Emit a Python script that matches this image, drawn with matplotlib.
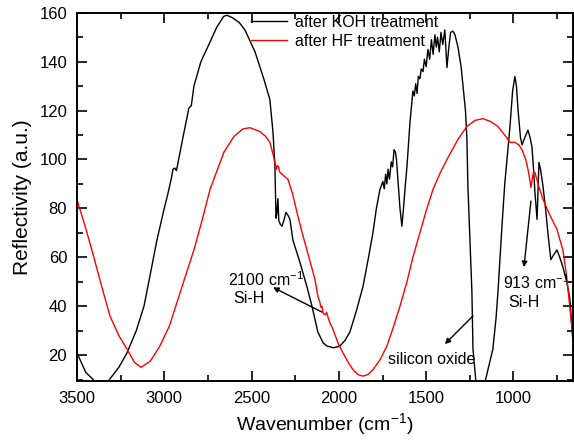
import matplotlib
matplotlib.use("Agg")
import matplotlib.pyplot as plt
from matplotlib.ticker import MultipleLocator

plt.rcParams['font.family'] = ['Liberation Sans', 'DejaVu Sans']
plt.rcParams['mathtext.fontset'] = 'custom'
plt.rcParams['mathtext.rm'] = 'Liberation Sans'
plt.rcParams['mathtext.default'] = 'rm'

# Reflectivity spectrum after KOH etching
koh_wn = [3500, 3450, 3400, 3360, 3320, 3260, 3214, 3160, 3116, 3080, 3042, 3000,
          2979, 2960, 2950, 2940, 2930, 2915, 2890, 2870, 2859, 2845, 2830, 2790,
          2738, 2700, 2660, 2641, 2610, 2570, 2538, 2480, 2430, 2395, 2377, 2366,
          2360, 2355, 2349, 2344, 2335, 2326, 2315, 2303, 2290, 2280, 2263, 2223,
          2183, 2154, 2120, 2090, 2068, 2030, 1994, 1965, 1937, 1900, 1862, 1830,
          1805, 1785, 1765, 1748, 1740, 1732, 1725, 1718, 1710, 1700, 1692, 1684,
          1676, 1670, 1660, 1650, 1639, 1630, 1620, 1610, 1600, 1593, 1585, 1576,
          1568, 1560, 1552, 1545, 1536, 1528, 1518, 1510, 1500, 1490, 1480, 1470,
          1460, 1450, 1442, 1435, 1425, 1415, 1405, 1393, 1381, 1370, 1360, 1347,
          1335, 1318, 1300, 1289, 1275, 1267, 1261, 1250, 1238, 1232, 1215, 1190,
          1163, 1140, 1118, 1100, 1089, 1066, 1050, 1037, 1020, 1005, 992, 983,
          974, 960, 951, 935, 917, 905, 894, 885, 877, 865, 858, 854, 845, 831,
          815, 803, 786, 770, 751, 735, 717, 695, 677, 660]
koh_refl = [21, 13, 9.5, 7, 9.4, 15, 20.8, 30, 40, 53, 67, 80,
            86, 92, 96, 96.5, 95.5, 101, 110, 117, 121, 122, 130, 140,
            148, 154, 158.5, 159, 158, 156, 153, 144, 133, 124.5, 111, 97,
            76, 78, 84, 75, 73.5, 72.7, 75, 78.4, 77, 75.5, 67, 58,
            48, 40, 29.4, 25, 23.7, 23, 23.7, 26, 29.4, 38, 48, 60,
            70, 80, 87.7, 91, 88, 94, 90, 96, 92, 99, 97, 104,
            103, 100, 90, 80, 72.7, 80, 89, 97, 108, 115, 121, 128,
            126, 131, 127, 134, 133, 137, 136, 141, 138, 145, 141, 149,
            143, 151, 146, 150, 144, 152, 147, 153, 137.6, 146, 152, 152.5,
            151, 146, 138, 130, 120, 109, 89, 68, 45.7, 22.5, 9, 4,
            9, 16, 22.5, 35, 45.7, 72.7, 90, 100, 113.5, 128, 134, 130,
            120.4, 109, 106, 109, 112, 109, 105, 96, 86.5, 75.5, 90, 98.8, 96, 89,
            79, 70, 59, 61, 63, 60, 56, 50, 43, 26]

# Reflectivity spectrum after HF dip
hf_wn = [3500, 3450, 3403, 3350, 3311, 3260, 3214, 3170, 3133, 3080, 3025, 2970,
         2927, 2880, 2830, 2780, 2738, 2700, 2658, 2600, 2550, 2509, 2452, 2420,
         2395, 2380, 2366, 2358, 2352, 2345, 2340, 2326, 2310, 2292, 2265, 2240,
         2210, 2183, 2160, 2137, 2120, 2110, 2103, 2097, 2090, 2078, 2070, 2060,
         2050, 2034, 2005, 1977, 1950, 1919, 1890, 1862, 1835, 1805, 1765, 1725,
         1690, 1650, 1610, 1576, 1536, 1500, 1461, 1420, 1381, 1320, 1267, 1220,
         1175, 1130, 1089, 1050, 1020, 992, 970, 951, 930, 917, 905, 900, 893,
         885, 877, 855, 831, 790, 751, 717, 695, 675, 660]
hf_refl = [83.7, 72, 60, 46, 36, 28, 22.5, 17, 15, 17.5, 23.7, 32,
           41.6, 52, 63, 76, 87.7, 95, 103, 109.5, 112.5, 113, 111.4, 109.5,
           107, 103, 98.8, 96, 97.5, 97, 95, 94, 93, 92, 86, 78.4,
           70, 63, 57, 51, 44, 42, 39.6, 40, 37, 36.5, 37.5, 35,
           33, 30.6, 25, 21, 17.5, 14, 12, 11.4, 12, 14, 18, 23.7,
           31, 40, 50, 60, 70, 79, 87.7, 94.5, 100, 108, 113.5, 116,
           116.7, 115.5, 113.5, 110, 107, 107, 106, 104, 100, 96, 91, 88.5, 92,
           95, 94.7, 89, 83.7, 77, 71.4, 63, 52, 38, 27]

fig = plt.figure(figsize=(5.74, 4.41), dpi=100)
ax = fig.add_axes([0.134, 0.136, 0.864, 0.835])

ax.plot(koh_wn, koh_refl, color='black', lw=1.0, label='after KOH treatment')
ax.plot(hf_wn, hf_refl, color='red', lw=1.0, label='after HF treatment')

ax.set_xlim(3500, 660)
ax.set_ylim(9.4, 160)
ax.xaxis.set_major_locator(MultipleLocator(500))
ax.xaxis.set_minor_locator(MultipleLocator(250))
ax.yaxis.set_minor_locator(MultipleLocator(10))
ax.set_yticks([20, 40, 60, 80, 100, 120, 140, 160])
ax.tick_params(which='both', direction='in', top=True, right=True, width=1.2,
               labelsize=12, pad=7)
ax.tick_params(which='major', length=7)
ax.tick_params(which='minor', length=4)
for side in ax.spines.values():
    side.set_linewidth(1.4)

ax.set_xlabel('Wavenumber (cm$^{-1}$)', fontsize=14, labelpad=4)
ax.set_ylabel('Reflectivity (a.u.)', fontsize=15, labelpad=5)

ax.legend(loc='upper left', bbox_to_anchor=(0.352, 0.995), frameon=False,
          fontsize=11.5, handlelength=2.2, handletextpad=0.5,
          borderpad=0, borderaxespad=0, labelspacing=0.25)

# band assignments
ax.annotate('', xy=(2377, 47.7), xytext=(2097, 37.6),
            arrowprops=dict(arrowstyle='-|>', color='black', lw=1,
                            mutation_scale=8, shrinkA=0, shrinkB=0))
ax.text(2635, 51, '2100 cm$^{-1}$', fontsize=11.5, va='center')
ax.text(2607, 43.3, 'Si-H', fontsize=11.5, va='center')

ax.annotate('', xy=(940, 56), xytext=(900, 83),
            arrowprops=dict(arrowstyle='-|>', color='black', lw=1,
                            mutation_scale=8, shrinkA=0, shrinkB=0))
ax.text(1060, 49.8, '913 cm$^{-1}$', fontsize=11.5, va='center')
ax.text(1030, 41.6, 'Si-H', fontsize=11.5, va='center')

ax.annotate('', xy=(1393, 24.5), xytext=(1232, 36),
            arrowprops=dict(arrowstyle='-|>', color='black', lw=1,
                            mutation_scale=8, shrinkA=0, shrinkB=0))
ax.text(1719, 18.4, 'silicon oxide', fontsize=11.5, va='center')

fig.savefig('out.png', dpi=100)
